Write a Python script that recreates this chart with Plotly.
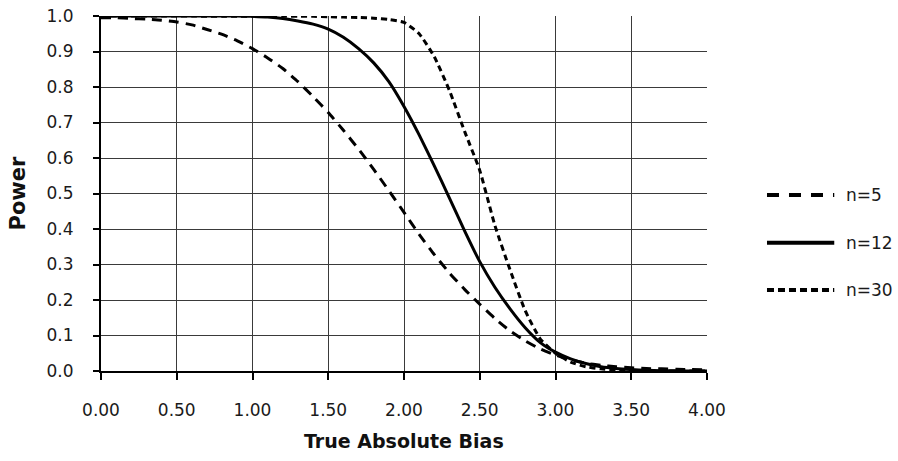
import plotly.graph_objects as go

bias = [round(i * 0.1, 1) for i in range(41)]

power_n5 = [0.995, 0.995, 0.993, 0.991, 0.988, 0.983, 0.975, 0.962, 0.948, 0.930,
            0.908, 0.882, 0.852, 0.815, 0.773, 0.728, 0.678, 0.625, 0.568, 0.508,
            0.447, 0.385, 0.328, 0.276, 0.230, 0.188, 0.148, 0.113, 0.085, 0.062,
            0.045, 0.032, 0.022, 0.016, 0.012, 0.009, 0.007, 0.006, 0.005, 0.004,
            0.003]

power_n12 = [1.0, 1.0, 1.0, 1.0, 1.0, 1.0, 1.0, 1.0, 1.0, 1.0,
             0.999, 0.997, 0.993, 0.986, 0.977, 0.963, 0.940, 0.908, 0.868, 0.815,
             0.745, 0.665, 0.578, 0.487, 0.395, 0.308, 0.236, 0.175, 0.122, 0.080,
             0.053, 0.034, 0.021, 0.012, 0.007, 0.004, 0.002, 0.001, 0.0005, 0.0002,
             0.0001]

power_n30 = [1.0, 1.0, 1.0, 1.0, 1.0, 1.0, 1.0, 0.999, 0.999, 0.999,
             0.999, 0.999, 0.999, 0.999, 0.999, 0.998, 0.997, 0.996, 0.994, 0.990,
             0.982, 0.950, 0.885, 0.790, 0.675, 0.565, 0.410, 0.285, 0.170, 0.090,
             0.050, 0.025, 0.012, 0.006, 0.003, 0.001, 0.0005, 0.0002, 0.0001, 0.0, 0.0]

series_names = ["n=5", "n=12", "n=30"]
x_ticks = [0.0, 0.5, 1.0, 1.5, 2.0, 2.5, 3.0, 3.5, 4.0]
y_ticks = [0.0, 0.1, 0.2, 0.3, 0.4, 0.5, 0.6, 0.7, 0.8, 0.9, 1.0]

FONT = "DejaVu Sans"
TXT = "#1a1a1a"
dashes = ["10px,7px", "solid", "6px,4px"]
legend_dashes = ["12px,10px", "solid", "7px,4px"]

fig = go.Figure()
for name, ys, d in zip(series_names, [power_n5, power_n12, power_n30], dashes):
    fig.add_trace(go.Scatter(x=bias, y=ys, name=name, mode="lines", showlegend=False,
                             line=dict(color="black", width=3, dash=d,
                                       shape="spline", smoothing=0.5)))

# custom legend (long samples like the original)
legend_y = [0.496, 0.361, 0.228]
for name, d, ly in zip(series_names, legend_dashes, legend_y):
    fig.add_shape(type="line", xref="paper", yref="paper",
                  x0=1.099, x1=1.210, y0=ly, y1=ly,
                  line=dict(color="black", width=4, dash=d))
    fig.add_annotation(xref="paper", yref="paper", x=1.226, y=ly, text=name,
                       showarrow=False, xanchor="left", yanchor="middle",
                       font=dict(family=FONT, size=17, color=TXT))

# axis titles
fig.add_annotation(xref="paper", yref="paper", x=0.5, y=-0.196, text="<b>True Absolute Bias</b>",
                   showarrow=False, xanchor="center", yanchor="middle",
                   font=dict(family=FONT, size=19, color="#111"))
fig.add_annotation(xref="paper", yref="paper", x=-0.137, y=0.5, text="<b>Power</b>",
                   showarrow=False, xanchor="center", yanchor="middle", textangle=-90,
                   font=dict(family=FONT, size=21, color="#111"))

fig.update_layout(
    width=898, height=461,
    margin=dict(l=101, r=191, t=16, b=90),
    paper_bgcolor="white", plot_bgcolor="white",
    font=dict(family=FONT, size=17, color=TXT),
    showlegend=False,
)
fig.update_xaxes(
    range=[0, 4], tickvals=x_ticks, tickformat=".2f", automargin=False,
    showgrid=True, gridcolor="#3a3a3a", gridwidth=1,
    showline=True, linecolor="black", linewidth=2,
    ticks="outside", ticklen=7, tickcolor="black", tickwidth=1.5,
    ticklabelstandoff=16,
    zeroline=False,
    tickfont=dict(family=FONT, size=17, color=TXT),
)
fig.update_yaxes(
    range=[0, 1.0], tickvals=y_ticks, tickformat=".1f", automargin=False,
    showgrid=True, gridcolor="#3a3a3a", gridwidth=1,
    showline=True, linecolor="black", linewidth=2,
    ticks="outside", ticklen=6, tickcolor="black", tickwidth=1.5,
    ticklabelstandoff=16,
    zeroline=False,
    tickfont=dict(family=FONT, size=17, color=TXT),
)

fig.write_html(
    "out.html",
    config={"displayModeBar": False},
    post_script="document.body.style.margin='0';document.body.style.overflow='hidden';",
)
